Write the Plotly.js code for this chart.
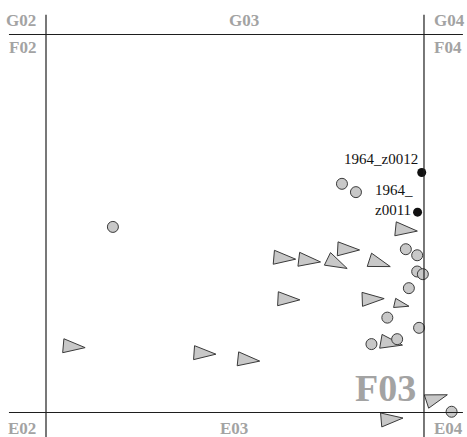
<!DOCTYPE html>
<html><head><meta charset="utf-8">
<script src="https://cdn.plot.ly/plotly-3.0.1.min.js"></script>
<style>html,body{margin:0;padding:0;background:#fff}#chart{width:467px;height:437px}</style>
</head><body><div id="chart"></div>
<script>
// Positions inside map sheet F03 (sheet spans 0..100 on both axes)
const circleX = [17.7, 78.3, 82.0, 95.2, 98.2, 98.2, 99.7, 96.0, 90.3, 98.7, 92.9, 86.1, 107.3];
const circleY = [49.1, 60.5, 58.3, 43.2, 41.6, 37.3, 36.6, 32.9, 25.1, 22.4, 19.4, 18.1, 0.2];

const triX = [62.2, 68.8, 76.2, 79.1, 87.4, 63.3, 85.6, 93.5, 90.5, 6.5, 41.1, 52.7, 94.4, 102.5, 90.6];
const triY = [40.9, 40.3, 39.8, 43.2, 39.8, 30.0, 30.0, 28.7, 18.5, 17.5, 15.7, 14.0, 48.4, 3.5, -1.8];
const triAngle = [5, 7, 26, 3, 18, 3, -2, 13, 10, 5, 4, 6, 6, -18, -5];
const triScale = [1, 1, 1, 1, 1, 1, 1, 0.67, 1, 1, 1, 1, 1, 1, 1];

const labelX = [99.4, 98.3];
const labelY = [63.5, 53.0];
const labelText = ['1964_z0012', '1964_z0011'];

const sheetRows = ['G', 'F', 'E'];
const sheetCols = ['02', '03', '04'];
const sheetEdges = [0, 100];

// ---- triangles built from their centres ----
const TL = 5.8, TH = 3.7;
const tx = [], ty = [];
for (let i = 0; i < triX.length; i++) {
  const a = triAngle[i] * Math.PI / 180, s = triScale[i];
  const ux = Math.cos(a), uy = -Math.sin(a);
  const px = Math.sin(a), py = Math.cos(a);
  const cx = triX[i], cy = triY[i];
  const tip = [cx + 2/3*TL*s*ux, cy + 2/3*TL*s*uy];
  const bx = cx - 1/3*TL*s*ux, by = cy - 1/3*TL*s*uy;
  const b1 = [bx + TH/2*s*px, by + TH/2*s*py];
  const b2 = [bx - TH/2*s*px, by - TH/2*s*py];
  [b1, tip, b2, b1].forEach(p => { tx.push(p[0]); ty.push(p[1]); });
  tx.push(null); ty.push(null);
}

const grey = '#c8c8c8', edge = '#3a3a3a';
const traces = [
  {x: tx, y: ty, mode: 'lines', fill: 'toself', fillcolor: grey,
   line: {color: edge, width: 1}, hoverinfo: 'skip'},
  {x: circleX, y: circleY, mode: 'markers', type: 'scatter',
   marker: {symbol: 'circle', size: 11, color: grey, line: {color: edge, width: 1}}},
  {x: labelX, y: labelY, mode: 'markers', type: 'scatter',
   marker: {symbol: 'circle', size: 9, color: '#111'}}
];

// ---- sheet grid lines ----
const lineStyle = {color: '#1e1e1e', width: 1.2};
const shapes = [];
sheetEdges.forEach(v => {
  shapes.push({type: 'line', xref: 'x', yref: 'y', x0: -9.8, x1: 110.3, y0: v, y1: v, line: lineStyle, layer: 'above'});
  shapes.push({type: 'line', xref: 'x', yref: 'y', x0: v, x1: v, y0: -10, y1: 105.2, line: lineStyle, layer: 'above'});
});

// ---- sheet labels ----
const serif = "'Liberation Serif', 'Times New Roman', serif";
const labFont = {family: serif, size: 17, color: '#a3a3a3', weight: 'bold'};
const ann = [];
const colX = [-2.1, null, 102.0];
const colAnchor = ['right', 'center', 'left'];
const rowY = [103.8, 96.5, -4.2];
sheetRows.forEach((r, ri) => {
  sheetCols.forEach((c, ci) => {
    const name = r + c;
    if (ri === 1 && ci === 1) {
      ann.push({x: 98.4, y: 6.5, xref: 'x', yref: 'y', text: name, showarrow: false,
        xanchor: 'right', yanchor: 'middle',
        font: {family: serif, size: 38, color: '#a3a3a3', weight: 'bold'}});
      return;
    }
    let x = colX[ci];
    if (ci === 1) x = (ri === 0) ? 52.5 : 49.8;
    ann.push({x: x, y: rowY[ri], xref: 'x', yref: 'y', text: name, showarrow: false,
      xanchor: colAnchor[ci], yanchor: 'middle', font: labFont});
  });
});

// ---- point labels ----
const ptFont = {family: serif, size: 15, color: '#111'};
ann.push({x: labelX[0], y: labelY[0], xref: 'x', yref: 'y', text: labelText[0], showarrow: false,
  xanchor: 'right', yanchor: 'middle', xshift: -2, yshift: 13, font: ptFont});
const cut = labelText[1].indexOf('_') + 1;
ann.push({x: labelX[1], y: labelY[1], xref: 'x', yref: 'y',
  text: labelText[1].slice(0, cut) + '<br>' + labelText[1].slice(cut), showarrow: false,
  xanchor: 'left', yanchor: 'middle', align: 'left', xshift: -45, yshift: 12, font: ptFont});

const layout = {
  width: 467, height: 437,
  margin: {l: 0, r: 0, t: 0, b: 0, pad: 0},
  paper_bgcolor: '#fff', plot_bgcolor: '#fff',
  showlegend: false,
  xaxis: {range: [-12.17, 111.38], visible: false, fixedrange: true},
  yaxis: {range: [-6.48, 109.13], visible: false, fixedrange: true},
  shapes: shapes,
  annotations: ann
};
Plotly.newPlot('chart', traces, layout, {displayModeBar: false, staticPlot: true});
</script>
</body></html>
